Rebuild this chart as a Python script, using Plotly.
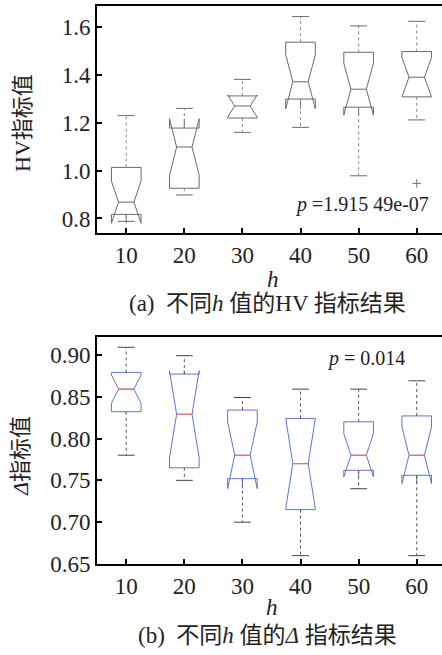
import plotly.graph_objects as go

# ---------------- data ----------------
h_values = [10, 20, 30, 40, 50, 60]

hv_upper = [1.229, 1.259, 1.380, 1.642, 1.603, 1.622]
hv_q3 = [1.013, 1.177, 1.311, 1.535, 1.493, 1.496]
hv_median = [0.868, 1.098, 1.269, 1.370, 1.339, 1.389]
hv_q1 = [0.817, 0.926, 1.219, 1.298, 1.264, 1.307]
hv_lower = [0.788, 0.898, 1.159, 1.180, 0.978, 1.211]
hv_notch = [0.088, 0.118, 0.046, 0.113, 0.108, 0.082]
hv_outlier_x = [60]
hv_outlier_y = [0.946]

d_upper = [0.909, 0.899, 0.849, 0.859, 0.859, 0.869]
d_q3 = [0.879, 0.877, 0.834, 0.824, 0.820, 0.827]
d_median = [0.859, 0.829, 0.780, 0.770, 0.780, 0.780]
d_q1 = [0.832, 0.765, 0.752, 0.715, 0.762, 0.756]
d_lower = [0.780, 0.750, 0.700, 0.660, 0.740, 0.660]
d_notch = [0.017, 0.052, 0.040, 0.054, 0.026, 0.034]

hv_ticks = [0.8, 1.0, 1.2, 1.4, 1.6]
d_ticks = [0.65, 0.70, 0.75, 0.80, 0.85, 0.90]

# ---------------- style ----------------
W, H = 442, 655
SERIF = "Liberation Serif, Times New Roman, Noto Sans CJK SC"
BOX_W = 5.1
NOTCH_W = 0.24
CAP_HALF = 1.45
MED_HALF = BOX_W / 2 * (1 - 2 * NOTCH_W)

top_dom = [0.593, 1.0]
bot_dom = [0.0, 0.4063]


def whisker_xy(xs, q1, q3, lo, hi):
    wx, wy, cx, cy = [], [], [], []
    for x, a, b, l, u in zip(xs, q1, q3, lo, hi):
        wx += [x, x, None, x, x, None]
        wy += [b, u, None, a, l, None]
        cx += [x - CAP_HALF, x + CAP_HALF, None, x - CAP_HALF, x + CAP_HALF, None]
        cy += [u, u, None, l, l, None]
    return wx, wy, cx, cy


fig = go.Figure()

# ---- panel (a) ----
fig.add_trace(go.Box(
    x=h_values, q1=hv_q1, median=hv_median, q3=hv_q3,
    lowerfence=hv_q1, upperfence=hv_q3, notchspan=hv_notch,
    notched=True, notchwidth=NOTCH_W, width=BOX_W, whiskerwidth=0,
    fillcolor="rgba(0,0,0,0)", line=dict(color="#6a6a6a", width=1),
    boxpoints=False, xaxis="x", yaxis="y", showlegend=False, hoverinfo="skip"))
wx, wy, cx, cy = whisker_xy(h_values, hv_q1, hv_q3, hv_lower, hv_upper)
fig.add_trace(go.Scatter(x=wx, y=wy, mode="lines", line=dict(color="#8a8a8a", width=1, dash="dot"),
                         xaxis="x", yaxis="y", showlegend=False, hoverinfo="skip"))
fig.add_trace(go.Scatter(x=cx, y=cy, mode="lines", line=dict(color="#6a6a6a", width=1),
                         xaxis="x", yaxis="y", showlegend=False, hoverinfo="skip"))
fig.add_trace(go.Scatter(x=hv_outlier_x, y=hv_outlier_y, mode="markers",
                         marker=dict(symbol="cross-thin", size=6, line=dict(color="#777777", width=1)),
                         xaxis="x", yaxis="y", showlegend=False, hoverinfo="skip"))

# ---- panel (b) ----
fig.add_trace(go.Box(
    x=h_values, q1=d_q1, median=d_median, q3=d_q3,
    lowerfence=d_q1, upperfence=d_q3, notchspan=d_notch,
    notched=True, notchwidth=NOTCH_W, width=BOX_W, whiskerwidth=0,
    fillcolor="rgba(0,0,0,0)", line=dict(color="#5a78c8", width=1),
    boxpoints=False, xaxis="x2", yaxis="y2", showlegend=False, hoverinfo="skip"))
wx, wy, cx, cy = whisker_xy(h_values, d_q1, d_q3, d_lower, d_upper)
fig.add_trace(go.Scatter(x=wx, y=wy, mode="lines", line=dict(color="#555555", width=1, dash="dot"),
                         xaxis="x2", yaxis="y2", showlegend=False, hoverinfo="skip"))
fig.add_trace(go.Scatter(x=cx, y=cy, mode="lines", line=dict(color="#444444", width=1),
                         xaxis="x2", yaxis="y2", showlegend=False, hoverinfo="skip"))
mx, my = [], []
for x, m in zip(h_values, d_median):
    mx += [x - MED_HALF, x + MED_HALF, None]
    my += [m, m, None]
fig.add_trace(go.Scatter(x=mx, y=my, mode="lines", line=dict(color="#ff6a6a", width=1.2),
                         xaxis="x2", yaxis="y2", showlegend=False, hoverinfo="skip"))

axis_common = dict(
    showline=True, linecolor="black", linewidth=2, ticks="inside", ticklen=5,
    tickwidth=1.5, tickcolor="black", showgrid=False, zeroline=False,
    tickfont=dict(family=SERIF, size=23, color="#222222"),
)
xr = [4.97, 64.35]
fig.update_layout(
    width=W, height=H,
    margin=dict(l=97, r=0, t=6, b=91),
    paper_bgcolor="white", plot_bgcolor="white",
    xaxis=dict(domain=[0, 1], anchor="y", range=xr, tickvals=h_values, mirror=True, **axis_common),
    yaxis=dict(domain=top_dom, anchor="x", range=[0.739, 1.686], tickvals=hv_ticks,
               tickformat=".1f", **axis_common),
    xaxis2=dict(domain=[0, 1], anchor="y2", range=xr, tickvals=h_values, mirror=True, **axis_common),
    yaxis2=dict(domain=bot_dom, anchor="x2", range=[0.65, 0.921], tickvals=d_ticks,
                tickformat=".2f", **axis_common),
)


def py(ypx):
    return (564 - ypx) / 558.0


def px(xpx):
    return (xpx - 97) / 345.0


ann = []
txt_font = dict(family=SERIF, size=22, color="#222222")
cap_font = dict(family=SERIF, size=23, color="#222222")
ann.append(dict(text="HV指标值", x=px(22), y=py(123), textangle=-90))
ann.append(dict(text="<i>Δ</i>指标值", x=px(20), y=py(456), textangle=-90))
ann.append(dict(text="<i>h</i>", x=px(273), y=py(279), font=dict(family=SERIF, size=23, color="#222222")))
ann.append(dict(text="<i>h</i>", x=px(272), y=py(607), font=dict(family=SERIF, size=23, color="#222222")))
ann.append(dict(text="(a)  不同<i>h</i> 值的HV 指标结果", x=px(267), y=py(303), font=cap_font))
ann.append(dict(text="(b)  不同<i>h</i> 值的<i>Δ</i> 指标结果", x=px(267), y=py(635), font=cap_font))
annotations = []
for a in ann:
    a.setdefault("font", txt_font)
    a.update(xref="paper", yref="paper", showarrow=False,
             xanchor="center", yanchor="middle")
    annotations.append(a)
annotations.append(dict(text="<i>p</i> =1.915 49e-07", x=px(431), y=py(204), xref="paper", yref="paper",
                        showarrow=False, xanchor="right", yanchor="middle",
                        font=dict(family=SERIF, size=20, color="#222222")))
annotations.append(dict(text="<i>p</i> = 0.014", x=px(366), y=py(358), xref="paper", yref="paper",
                        showarrow=False, xanchor="center", yanchor="middle",
                        font=dict(family=SERIF, size=20, color="#222222")))
fig.update_layout(annotations=annotations)

fig.write_html(
    "out.html",
    config={"displayModeBar": False},
    post_script="document.body.style.margin='0';document.body.style.padding='0';"
                "document.body.style.overflow='hidden';",
)
